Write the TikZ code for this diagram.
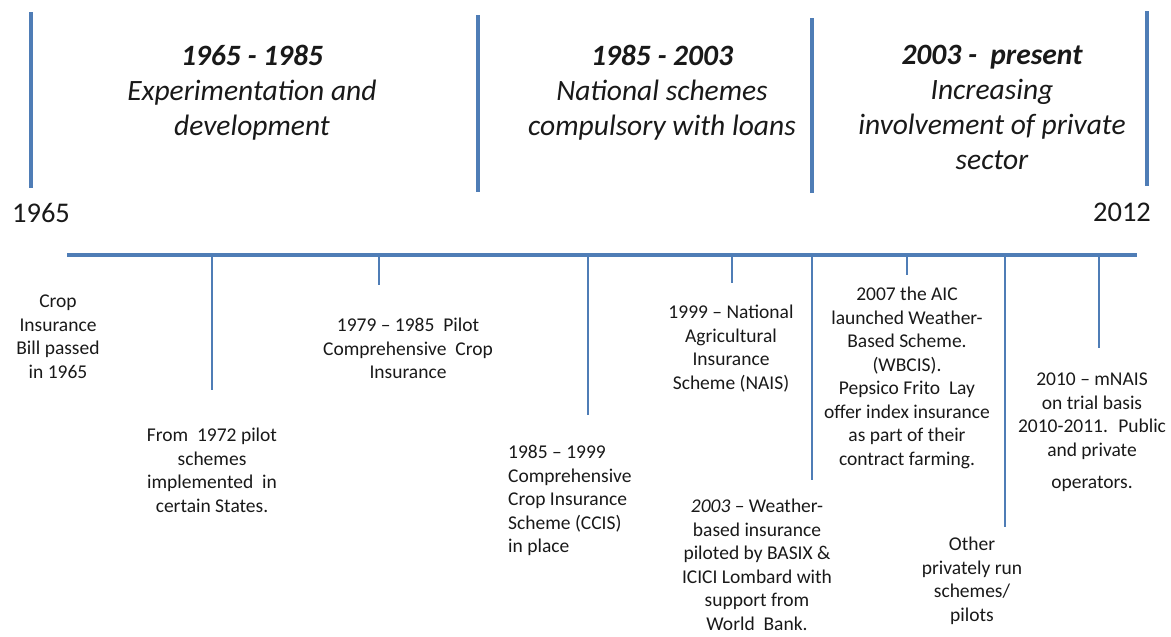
\documentclass[tikz,border=0pt]{standalone}
\usepackage{fontspec}
\setmainfont{Carlito}
\usepackage{xcolor}
\usepackage{tikz}
\usetikzlibrary{positioning}
\definecolor{lineblue}{RGB}{79,125,182}
\definecolor{inkgray}{RGB}{25,25,25}

\begin{document}
\begin{tikzpicture}[
  x=1pt, y=-1pt,
  era/.style={inner sep=0pt, anchor=north, align=center, text=inkgray,
              font=\fontsize{29.5}{35}\selectfont\itshape},
  note/.style={inner sep=0pt, anchor=north, align=center, text=inkgray,
               font=\fontsize{19.5}{23.5}\selectfont},
  yearlabel/.style={inner sep=0pt, anchor=north, text=inkgray,
                    font=\fontsize{28.5}{35}\selectfont},
  divider/.style={lineblue, line width=3.5pt},
  axis/.style={lineblue, line width=4pt},
  tick/.style={lineblue, line width=1.2pt},
]
  \useasboundingbox (0,0) rectangle (1171,637);

  % era dividers
  \coordinate (d1top) at (31,12);    \coordinate (d1bot) at (31,188);
  \coordinate (d2top) at (478,15);   \coordinate (d2bot) at (478,192);
  \coordinate (d3top) at (812,18);   \coordinate (d3bot) at (812,193);
  \coordinate (d4top) at (1147,11);  \coordinate (d4bot) at (1147,186);
  \draw[divider] (d1top) -- (d1bot);
  \draw[divider] (d2top) -- (d2bot);
  \draw[divider] (d3top) -- (d3bot);
  \draw[divider] (d4top) -- (d4bot);

  \node[era] (era1) at (252,45) {\textbf{1965 - 1985}\\Experimentation and\\development};
  \node[era] (era2) at (662,45) {\textbf{1985 - 2003}\\National schemes\\compulsory with loans};
  \node[era] (era3) at (992,45) {\textbf{2003 -\ \ present}\\Increasing\\involvement of private\\sector};

  \node[yearlabel] (y1965) at (41,203) {1965};
  \node[yearlabel] (y2012) at (1122,203) {2012};

  % time axis
  \coordinate (start) at (67,255);
  \coordinate (stop)  at (1137,255);
  \draw[axis] (start) -- (stop);

  % ticks
  \coordinate (t1) at (212,255);  \coordinate (e1) at (212,390);
  \coordinate (t2) at (379,255);  \coordinate (e2) at (379,285);
  \coordinate (t3) at (588,255);  \coordinate (e3) at (588,415);
  \coordinate (t4) at (732,255);  \coordinate (e4) at (732,283);
  \coordinate (t5) at (812,255);  \coordinate (e5) at (812,480);
  \coordinate (t6) at (907,255);  \coordinate (e6) at (907,275);
  \coordinate (t7) at (1005,255); \coordinate (e7) at (1005,527);
  \coordinate (t8) at (1099,255); \coordinate (e8) at (1099,348);
  \draw[tick] (t1) -- (e1);
  \draw[tick] (t2) -- (e2);
  \draw[tick] (t3) -- (e3);
  \draw[tick] (t4) -- (e4);
  \draw[tick] (t5) -- (e5);
  \draw[tick] (t6) -- (e6);
  \draw[tick] (t7) -- (e7);
  \draw[tick] (t8) -- (e8);

  % events
  \node[note] (bill)   at (58,295)  {Crop\\Insurance\\Bill passed\\in 1965};
  \node[note] (pilot)  at (212,428) {From \ 1972 pilot\\schemes\\implemented \ in\\certain States.};
  \node[note] (ccipilot) at (408,318) {1979 – 1985 \ Pilot\\Comprehensive \ Crop\\Insurance};
  \node[note, anchor=north west, align=left] (ccis) at (508,445)
       {1985 – 1999\\Comprehensive\\Crop Insurance\\Scheme (CCIS)\\in place};
  \node[note] (nais)   at (731,305) {1999 – National\\Agricultural\\Insurance\\Scheme (NAIS)};
  \node[note] (basix)  at (757,499) {\textit{2003} – Weather-\\based insurance\\piloted by BASIX \&\\ICICI Lombard with\\support from\\World \ Bank.};
  \node[note] (wbcis)  at (907,287) {2007 the AIC\\launched Weather-\\Based Scheme.\\(WBCIS).\\Pepsico Frito \ Lay\\offer index insurance\\as part of their\\contract farming.};
  \node[note] (private) at (972,537) {Other\\privately run\\schemes/\\pilots};
  \node[note] (mnais)  at (1092,373) {2010 – mNAIS\\on trial basis\\2010-2011. \ Public\\and private\\[9pt]operators.};
\end{tikzpicture}
\end{document}
